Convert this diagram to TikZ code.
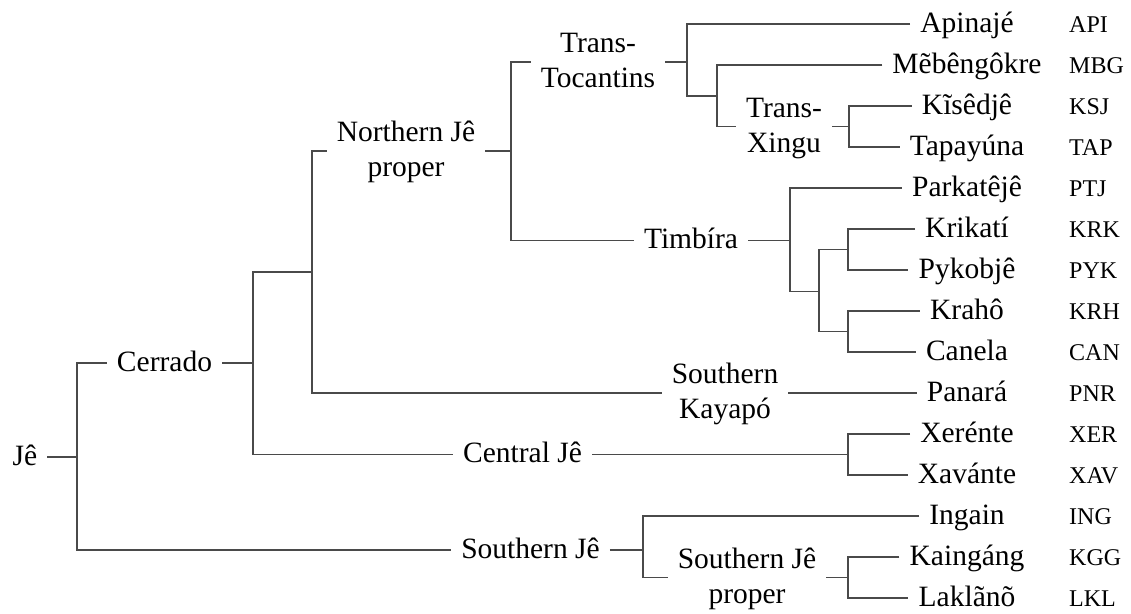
\documentclass[tikz,border=0pt]{standalone}
\usepackage{fontspec}
\setmainfont{Liberation Serif}
\definecolor{linegray}{HTML}{4A4A4A}
\begin{document}
\begin{tikzpicture}[x=1pt,y=-1pt,
  every node/.style={font=\fontsize{29.5}{35}\selectfont, inner ysep=0pt, inner xsep=10pt},
  lbl/.style={text height=20pt, text depth=4pt},
  grp/.style={align=center, text height=55pt, text depth=4pt},
  code/.style={font=\fontsize{24}{28}\selectfont, inner sep=0pt, anchor=base west},
  br/.style={draw=linegray, line width=1.7pt}]
\useasboundingbox (0,0) rectangle (1131,613);
% vertical positions of brackets
\coordinate (v77) at (77,0);
\coordinate (v253) at (253,0);
\coordinate (v511) at (511,0);
\coordinate (v687) at (687,0);
\coordinate (v790) at (790,0);
\coordinate (v849) at (849,0);
\coordinate (v848) at (848,0);
\coordinate (v643) at (643,0);
\coordinate (cx) at (1069,0);
% unlabeled junctions
\coordinate (u1) at (312,272);
\coordinate (u3) at (717,96);
\coordinate (u4) at (819,291.5);
\coordinate (u5) at (848,249.5);
\coordinate (u6) at (848,331.5);
% internal nodes
\node[lbl] (je) at (25,457) {Jê};
\node[lbl] (cer) at (164.5,363) {Cerrado};
\node[grp] (njp) at (406,151) {Northern Jê\\proper};
\node[grp] (tt) at (598,62) {Trans-\\Tocantins};
\node[grp] (tx) at (784,126.5) {Trans-\\Xingu};
\node[lbl] (tim) at (691,240.5) {Timbíra};
\node[grp] (sk) at (725,393) {Southern\\Kayapó};
\node[lbl] (cj) at (522.5,454.5) {Central Jê};
\node[lbl] (sj) at (530.5,550) {Southern Jê};
\node[grp] (sjp) at (747,577.5) {Southern Jê\\proper};
% leaves
\node[lbl] (api) at (967,24) {Apinajé};
\node[lbl] (mbg) at (967,65) {Mẽbêngôkre};
\node[lbl] (ksj) at (967,106) {Kĩsêdjê};
\node[lbl] (tap) at (967,147) {Tapayúna};
\node[lbl] (ptj) at (967,188) {Parkatêjê};
\node[lbl] (krk) at (967,229) {Krikatí};
\node[lbl] (pyk) at (967,270) {Pykobjê};
\node[lbl] (krh) at (967,311) {Krahô};
\node[lbl] (can) at (967,352) {Canela};
\node[lbl] (pnr) at (967,393) {Panará};
\node[lbl] (xer) at (967,434) {Xerénte};
\node[lbl] (xav) at (967,475) {Xavánte};
\node[lbl] (ing) at (967,516) {Ingain};
\node[lbl] (kgg) at (967,557) {Kaingáng};
\node[lbl] (lkl) at (967,598) {Laklãnõ};
% codes
\node[code] at (api.base -| cx) {API};
\node[code] at (mbg.base -| cx) {MBG};
\node[code] at (ksj.base -| cx) {KSJ};
\node[code] at (tap.base -| cx) {TAP};
\node[code] at (ptj.base -| cx) {PTJ};
\node[code] at (krk.base -| cx) {KRK};
\node[code] at (pyk.base -| cx) {PYK};
\node[code] at (krh.base -| cx) {KRH};
\node[code] at (can.base -| cx) {CAN};
\node[code] at (pnr.base -| cx) {PNR};
\node[code] at (xer.base -| cx) {XER};
\node[code] at (xav.base -| cx) {XAV};
\node[code] at (ing.base -| cx) {ING};
\node[code] at (kgg.base -| cx) {KGG};
\node[code] at (lkl.base -| cx) {LKL};
% connectors
\draw[br] (je.east) -- (je.east -| v77);
\draw[br] (cer.west) -- (cer.west -| v77) |- (sj.west);
\draw[br] (cer.east) -- (cer.east -| v253);
\draw[br] (u1) -- (u1 -| v253) |- (cj.west);
\draw[br] (njp.west) -- (njp.west -| u1) |- (sk.west);
\draw[br] (njp.east) -- (njp.east -| v511);
\draw[br] (tt.west) -- (tt.west -| v511) |- (tim.west);
\draw[br] (tt.east) -- (tt.east -| v687);
\draw[br] (api.west) -- (api.west -| v687) |- (u3);
\draw[br] (mbg.west) -- (mbg.west -| u3) |- (tx.west);
\draw[br] (tx.east) -- (tx.east -| v849);
\draw[br] (ksj.west) -- (ksj.west -| v849) |- (tap.west);
\draw[br] (tim.east) -- (tim.east -| v790);
\draw[br] (ptj.west) -- (ptj.west -| v790) |- (u4);
\draw[br] (u5) -- (u5 -| u4) |- (u6);
\draw[br] (krk.west) -- (krk.west -| u5) |- (pyk.west);
\draw[br] (krh.west) -- (krh.west -| u6) |- (can.west);
\draw[br] (sk.east) -- (pnr.west);
\draw[br] (cj.east) -- (cj.east -| v848);
\draw[br] (xer.west) -- (xer.west -| v848) |- (xav.west);
\draw[br] (sj.east) -- (sj.east -| v643);
\draw[br] (ing.west) -- (ing.west -| v643) |- (sjp.west);
\draw[br] (sjp.east) -- (sjp.east -| v848);
\draw[br] (kgg.west) -- (kgg.west -| v848) |- (lkl.west);
\end{tikzpicture}
\end{document}
